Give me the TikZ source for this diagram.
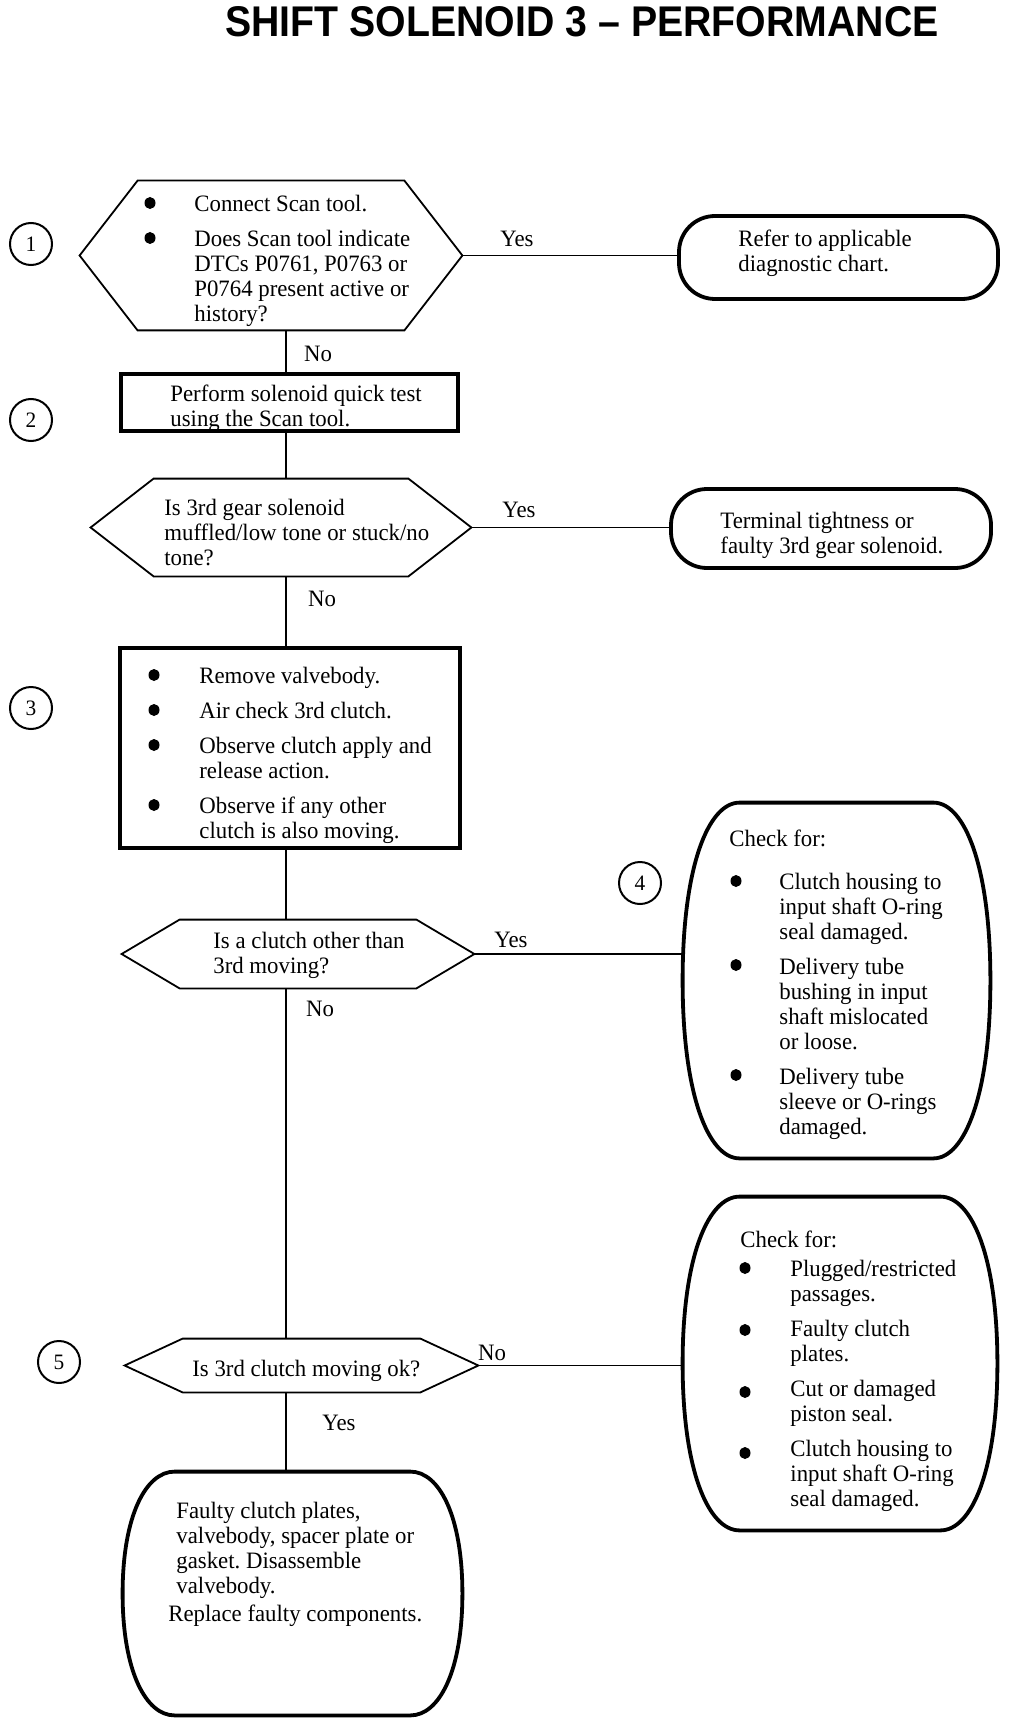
\documentclass[tikz,border=0pt]{standalone}
\usepackage{graphicx}
\usepackage{fontspec}
\setmainfont{Liberation Serif}[FakeStretch=0.97]
\newfontfamily\titlefont{Liberation Sans}
\usetikzlibrary{calc}
\frenchspacing
\newcommand\hexdraw[2]{\draw[hexline] (#1.west) -- ([xshift=#2]#1.north west) -- ([xshift=-#2]#1.north east) -- (#1.east) -- ([xshift=-#2]#1.south east) -- ([xshift=#2]#1.south west) -- cycle;}
\newcommand\barreldraw[2]{\draw[thickline] ([xshift=#2]#1.north west) -- ([xshift=-#2]#1.north east)
 .. controls ([xshift=-0.45*#2]#1.north east) and ($(#1.north east)!0.18!(#1.south east)$) .. (#1.east)
 .. controls ($(#1.north east)!0.82!(#1.south east)$) and ([xshift=-0.45*#2]#1.south east) .. ([xshift=-#2]#1.south east)
 -- ([xshift=#2]#1.south west)
 .. controls ([xshift=0.45*#2]#1.south west) and ($(#1.north west)!0.82!(#1.south west)$) .. (#1.west)
 .. controls ($(#1.north west)!0.18!(#1.south west)$) and ([xshift=0.45*#2]#1.north west) .. cycle;}
\begin{document}
\begin{tikzpicture}[x=0.5pt,y=-0.5pt,
  txt/.style={inner sep=0pt, anchor=north west, align=left, font=\fontsize{11.75pt}{12.5pt}\selectfont},
  lbl/.style={inner sep=0pt, font=\fontsize{11.75pt}{12.5pt}\selectfont},
  frame/.style={inner sep=0pt, draw=none},
  conn/.style={line width=0.75pt},
  hexline/.style={line width=0.9pt, line join=miter},
  thickline/.style={line width=1.9pt},
  thickbox/.style={draw, line width=1.9pt, inner sep=0pt},
  num/.style={circle, draw, line width=1pt, minimum size=21pt, inner sep=0pt, font=\fontsize{11pt}{12pt}\selectfont},
  bul/.style={fill=black},
]
\useasboundingbox (0,0) rectangle (1024,1722);
\node[inner sep=0pt] (title) at (582,22) {\resizebox{356.5pt}{15pt}{\titlefont\bfseries SHIFT SOLENOID 3 – PERFORMANCE}};
\coordinate (sp) at (286,0);

% step 1
\node[frame, minimum width=191pt, minimum height=74.5pt] (h1) at (271,255.5) {};
\hexdraw{h1}{29pt}
\node[num] (c1) at (31,244) {1};
\node[txt] (t1) at (194,195) {Connect Scan tool.\\[5pt] Does Scan tool indicate\\ DTCs P0761, P0763 or\\ P0764 present active or\\ history?};
\fill[bul] (150,203) ellipse (5.5 and 6);
\fill[bul] (150,238) ellipse (5.5 and 6);
\node[thickbox, rounded corners=18pt, minimum width=159.5pt, minimum height=41.5pt] (r1) at (838.5,257.5) {};
\node[txt] (tr1) at (738,230) {Refer to applicable\\ diagnostic chart.};
\draw[conn] (h1.east) -- (h1.east -| r1.west);
\node[lbl] (y1) at (517,239) {Yes};
\node[lbl] (n1) at (318,354) {No};

% step 2
\node[thickbox, minimum width=168.5pt, minimum height=28.5pt] (b2) at (289.5,402.5) {};
\node[txt] (t2) at (170,385) {Perform solenoid quick test\\ using the Scan tool.};
\node[num] (c2) at (31,420) {2};
\draw[conn] (h1.south -| sp) -- (b2.north -| sp);

\node[frame, minimum width=190pt, minimum height=48.5pt] (h2) at (281,527.5) {};
\hexdraw{h2}{31.5pt}
\node[txt] (th2) at (164,499) {Is 3rd gear solenoid\\ muffled/low tone or stuck/no\\ tone?};
\draw[conn] (b2.south -| sp) -- (h2.north -| sp);
\node[thickbox, rounded corners=18pt, minimum width=160pt, minimum height=39.5pt] (r2) at (831,528.5) {};
\node[txt] (tr2) at (720,512) {Terminal tightness or\\ faulty 3rd gear solenoid.};
\draw[conn] (h2.east) -- (h2.east -| r2.west);
\node[lbl] (y2) at (519,510) {Yes};
\node[lbl] (n2) at (322,599) {No};

% step 3
\node[thickbox, minimum width=170pt, minimum height=100pt] (b3) at (290,748) {};
\node[num] (c3) at (31,708) {3};
\node[txt] (t3) at (199,667) {Remove valvebody.\\[5pt] Air check 3rd clutch.\\[5pt] Observe clutch apply and\\ release action.\\[5pt] Observe if any other\\ clutch is also moving.};
\fill[bul] (154,675) ellipse (5.5 and 6);
\fill[bul] (154,710) ellipse (5.5 and 6);
\fill[bul] (154,745) ellipse (5.5 and 6);
\fill[bul] (154,805) ellipse (5.5 and 6);
\draw[conn] (h2.south -| sp) -- (b3.north -| sp);

\node[frame, minimum width=176pt, minimum height=34pt] (h3) at (298,954) {};
\hexdraw{h3}{29pt}
\node[txt] (th3) at (213,932) {Is a clutch other than\\ 3rd moving?};
\draw[conn] (b3.south -| sp) -- (h3.north -| sp);

% step 4
\node[frame, minimum width=153.5pt, minimum height=177.5pt] (b4) at (836.5,980.5) {};
\barreldraw{b4}{28.5pt}
\node[num] (c4) at (640,883) {4};
\node[txt] (tb4a) at (729,830) {Check for:};
\node[txt] (tb4) at (779,873) {Clutch housing to\\ input shaft O-ring\\ seal damaged.\\[5pt] Delivery tube\\ bushing in input\\ shaft mislocated\\ or loose.\\[5pt] Delivery tube\\ sleeve or O-rings\\ damaged.};
\fill[bul] (736,881) ellipse (5.5 and 6);
\fill[bul] (736,965) ellipse (5.5 and 6);
\fill[bul] (736,1075) ellipse (5.5 and 6);
\draw[conn] (h3.east) -- (h3.east -| b4.west);
\node[lbl] (y3) at (511,940) {Yes};
\node[lbl] (n3) at (320,1009) {No};

% step 5
\node[frame, minimum width=176.5pt, minimum height=26.5pt] (h5) at (301.5,1365.5) {};
\hexdraw{h5}{29pt}
\node[txt] (th5) at (192,1360) {Is 3rd clutch moving ok?};
\node[num] (c5) at (59,1362) {5};
\draw[conn] (h3.south -| sp) -- (h5.north -| sp);

\node[frame, minimum width=157pt, minimum height=166.5pt] (b5) at (840,1363.5) {};
\barreldraw{b5}{28.5pt}
\node[txt] (tb5a) at (740,1231) {Check for:};
\node[txt] (tb5) at (790,1260) {Plugged/restricted\\ passages.\\[5pt] Faulty clutch\\ plates.\\[5pt] Cut or damaged\\ piston seal.\\[5pt] Clutch housing to\\ input shaft O-ring\\ seal damaged.};
\fill[bul] (745,1268) ellipse (5.5 and 6);
\fill[bul] (745,1330) ellipse (5.5 and 6);
\fill[bul] (745,1392) ellipse (5.5 and 6);
\fill[bul] (745,1453) ellipse (5.5 and 6);
\draw[conn] (h5.east) -- (h5.east -| b5.west);
\node[lbl] (n5) at (492,1353) {No};

\node[frame, minimum width=169.5pt, minimum height=121.5pt] (b6) at (292.5,1593.5) {};
\barreldraw{b6}{26pt}
\node[txt] (tb6) at (176,1502) {Faulty clutch plates,\\ valvebody, spacer plate or\\ gasket. Disassemble\\ valvebody.};
\node[txt] (tb6b) at (168,1605) {Replace faulty components.};
\draw[conn] (h5.south -| sp) -- (b6.north -| sp);
\node[lbl] (y5) at (339,1423) {Yes};
\end{tikzpicture}
\end{document}
